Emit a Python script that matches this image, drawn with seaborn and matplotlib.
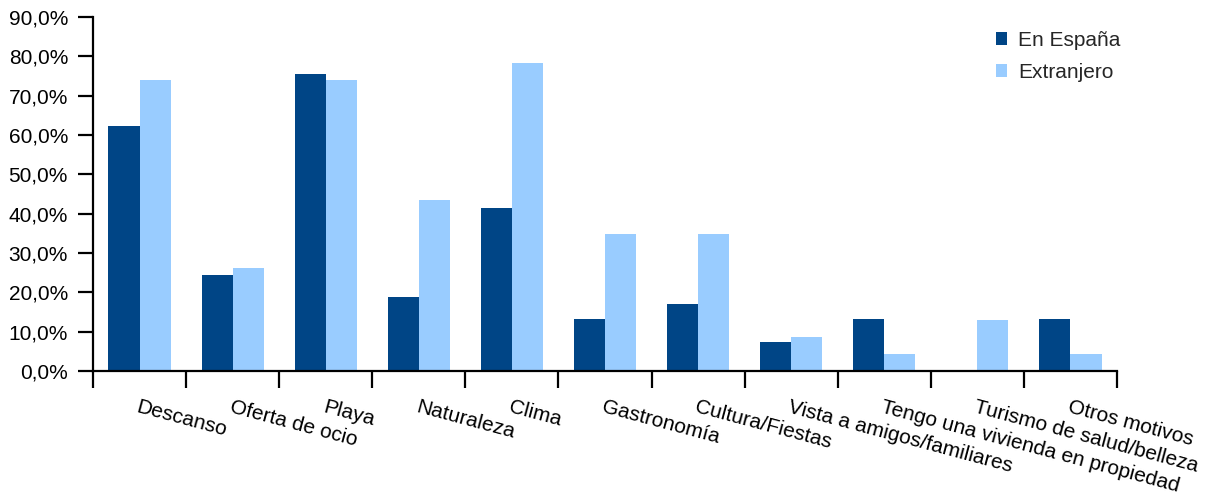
import numpy as np
import pandas as pd
import matplotlib
matplotlib.use("Agg")
import matplotlib.pyplot as plt
import seaborn as sns
from matplotlib.ticker import FuncFormatter

# Motivos de viaje, porcentaje de encuestados por destino
categories = ["Descanso", "Oferta de ocio", "Playa", "Naturaleza", "Clima",
              "Gastronomía", "Cultura/Fiestas", "Vista a amigos/familiares",
              "Tengo una vivienda en propiedad", "Turismo de salud/belleza",
              "Otros motivos"]
en_espana = [62.3, 24.5, 75.4, 18.9, 41.5, 13.2, 17.0, 7.5, 13.2, 0.0, 13.2]
extranjero = [73.9, 26.1, 73.9, 43.5, 78.3, 34.8, 34.8, 8.7, 4.3, 13.0, 4.3]
series_names = ["En España", "Extranjero"]
colors = ["#004586", "#99ccff"]
yticks = [0, 10, 20, 30, 40, 50, 60, 70, 80, 90]

df = pd.DataFrame({
    "motivo": categories * 2,
    "valor": en_espana + extranjero,
    "destino": [series_names[0]] * len(categories) + [series_names[1]] * len(categories),
})

sns.set_style("white")
plt.rcParams["font.family"] = ["Liberation Sans", "DejaVu Sans"]
plt.rcParams["font.size"] = 15

fig = plt.figure(figsize=(12.21, 5.0), dpi=100)
ax = fig.add_axes([93 / 1221, 1 - 371 / 500, (1117 - 93) / 1221, (371 - 17) / 500])

sns.barplot(data=df, x="motivo", y="valor", hue="destino", order=categories,
            hue_order=series_names, palette=colors, width=0.667, saturation=1,
            linewidth=0, ax=ax, legend=True)

ax.set_xlim(-0.5, len(categories) - 0.5)
ax.set_ylim(0, 90)
ax.set_yticks(yticks)
ax.yaxis.set_major_formatter(FuncFormatter(lambda v, _: f"{v:.1f}".replace(".", ",") + "%"))
ax.set_xlabel("")
ax.set_ylabel("")

# category boundaries as major ticks, names on minor ticks at the centres
ax.set_xticks(np.arange(-0.5, len(categories), 1.0))
ax.set_xticklabels([])
ax.set_xticks(np.arange(len(categories)), categories, minor=True)
ax.tick_params(axis="x", which="major", direction="out", length=12, width=1.6,
               color="black", bottom=True)
ax.tick_params(axis="x", which="minor", length=0, pad=19, labelsize=15,
               labelcolor="black", bottom=True)
for lab in ax.get_xticklabels(minor=True):
    lab.set_rotation(-15)
    lab.set_ha("left")
    lab.set_va("top")
    lab.set_rotation_mode("anchor")

ax.tick_params(axis="y", direction="out", length=11, width=1.6, color="black",
               pad=7, labelsize=15, labelcolor="black", left=True)

for side in ["top", "right"]:
    ax.spines[side].set_visible(False)
for side in ["left", "bottom"]:
    ax.spines[side].set_color("black")
    ax.spines[side].set_linewidth(1.6)
ax.grid(False)

handles, labels = ax.get_legend_handles_labels()
ax.legend(handles, labels, loc="upper left",
          bbox_to_anchor=(996 / 1221, 1 - 31 / 500), bbox_transform=fig.transFigure,
          frameon=False, fontsize=15, handlelength=0.55, handleheight=0.55,
          handletextpad=0.5, labelspacing=0.62, borderpad=0, borderaxespad=0)

fig.savefig("out.png", dpi=100, facecolor="white")
